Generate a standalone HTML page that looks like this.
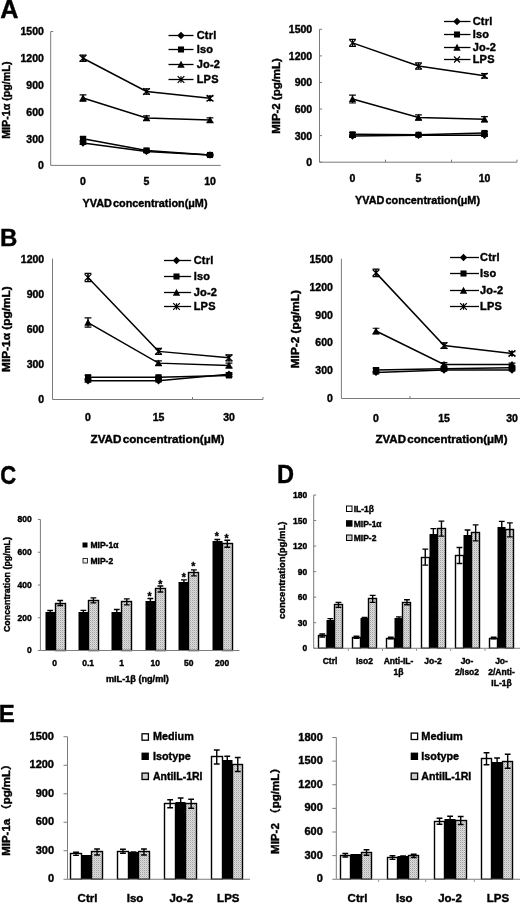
<!DOCTYPE html><html><head><meta charset="utf-8"><title>Figure</title>
<style>html,body{margin:0;padding:0;background:#fff}svg{display:block;will-change:transform}text{font-family:"Liberation Sans", "Noto Sans CJK SC", sans-serif}</style></head><body>
<svg width="520" height="904" viewBox="0 0 520 904">
<defs><pattern id="gp" width="2" height="2" patternUnits="userSpaceOnUse"><rect width="2" height="2" fill="#dcdcdc"/><rect width="1" height="1" fill="#a2a2a2"/><rect x="1" y="1" width="1" height="1" fill="#c6c6c6"/></pattern></defs>
<rect width="520" height="904" fill="#fff"/>
<text x="0.30" y="17.90" font-size="25.2" text-anchor="start" font-weight="bold" fill="#000" stroke="#000" stroke-width="0.4">A</text>
<text x="0.00" y="246.00" font-size="24" text-anchor="start" font-weight="bold" fill="#000" stroke="#000" stroke-width="0.4">B</text>
<text transform="translate(0.3 484.3) scale(1 1.2)" font-size="22" font-weight="bold" stroke="#000" stroke-width="0.4">C</text>
<text transform="translate(277.1 483.3) scale(1 1.08)" font-size="23.6" font-weight="bold" stroke="#000" stroke-width="0.4">D</text>
<text x="-1.30" y="721.90" font-size="24" text-anchor="start" font-weight="bold" fill="#000" stroke="#000" stroke-width="0.4">E</text>
<line x1="50.70" y1="31.50" x2="50.70" y2="165.40" stroke="#7a7a7a" stroke-width="1"/>
<line x1="50.70" y1="165.40" x2="220.70" y2="165.40" stroke="#7a7a7a" stroke-width="1"/>
<text x="43.90" y="169.28" font-size="10.5" text-anchor="end" font-weight="bold" fill="#000" stroke="#000" stroke-width="0.4">0</text>
<text x="43.90" y="142.50" font-size="10.5" text-anchor="end" font-weight="bold" fill="#000" stroke="#000" stroke-width="0.4">300</text>
<text x="43.90" y="115.73" font-size="10.5" text-anchor="end" font-weight="bold" fill="#000" stroke="#000" stroke-width="0.4">600</text>
<text x="43.90" y="88.95" font-size="10.5" text-anchor="end" font-weight="bold" fill="#000" stroke="#000" stroke-width="0.4">900</text>
<text x="43.90" y="62.16" font-size="10.5" text-anchor="end" font-weight="bold" fill="#000" stroke="#000" stroke-width="0.4">1200</text>
<line x1="50.70" y1="31.50" x2="53.20" y2="31.50" stroke="#7a7a7a" stroke-width="1"/>
<text x="43.90" y="35.38" font-size="10.5" text-anchor="end" font-weight="bold" fill="#000" stroke="#000" stroke-width="0.4">1500</text>
<text x="83.00" y="185.00" font-size="10.5" text-anchor="middle" font-weight="bold" fill="#000" stroke="#000" stroke-width="0.4">0</text>
<text x="146.50" y="185.00" font-size="10.5" text-anchor="middle" font-weight="bold" fill="#000" stroke="#000" stroke-width="0.4">5</text>
<text x="210.00" y="185.00" font-size="10.5" text-anchor="middle" font-weight="bold" fill="#000" stroke="#000" stroke-width="0.4">10</text>
<text x="145.00" y="207.00" font-size="11" text-anchor="middle" font-weight="bold" fill="#000" stroke="#000" stroke-width="0.4" textLength="125" lengthAdjust="spacingAndGlyphs" word-spacing="-1.8">YVAD concentration(μM)</text>
<text x="10.20" y="100.20" font-size="10.5" text-anchor="middle" font-weight="bold" fill="#000" stroke="#000" stroke-width="0.4" textLength="77.3" lengthAdjust="spacingAndGlyphs" transform="rotate(-90 10.20 100.20)">MIP-1α (pg/mL)</text>
<path d="M83.00 143.08L146.50 151.39L210.00 154.96" stroke="#000" stroke-width="1.5" fill="none"/>
<path d="M83.00 141.74L83.00 144.42M79.60 141.74L86.40 141.74M79.60 144.42L86.40 144.42" stroke="#000" stroke-width="1.2" fill="none"/>
<path d="M83.00 139.38L86.70 143.08L83.00 146.78L79.30 143.08Z" fill="#000"/>
<path d="M146.50 150.49L146.50 152.28M143.10 150.49L149.90 150.49M143.10 152.28L149.90 152.28" stroke="#000" stroke-width="1.2" fill="none"/>
<path d="M146.50 147.69L150.20 151.39L146.50 155.09L142.80 151.39Z" fill="#000"/>
<path d="M210.00 154.06L210.00 155.85M206.60 154.06L213.40 154.06M206.60 155.85L213.40 155.85" stroke="#000" stroke-width="1.2" fill="none"/>
<path d="M210.00 151.26L213.70 154.96L210.00 158.66L206.30 154.96Z" fill="#000"/>
<path d="M83.00 138.80L146.50 150.40L210.00 154.96" stroke="#000" stroke-width="1.5" fill="none"/>
<path d="M83.00 137.01L83.00 140.58M79.60 137.01L86.40 137.01M79.60 140.58L86.40 140.58" stroke="#000" stroke-width="1.2" fill="none"/>
<rect x="79.97" y="135.76" width="6.07" height="6.07" fill="#000"/>
<path d="M146.50 149.06L146.50 151.74M143.10 149.06L149.90 149.06M143.10 151.74L149.90 151.74" stroke="#000" stroke-width="1.2" fill="none"/>
<rect x="143.47" y="147.37" width="6.07" height="6.07" fill="#000"/>
<path d="M210.00 154.06L210.00 155.85M206.60 154.06L213.40 154.06M206.60 155.85L213.40 155.85" stroke="#000" stroke-width="1.2" fill="none"/>
<rect x="206.97" y="151.92" width="6.07" height="6.07" fill="#000"/>
<path d="M83.00 98.00L146.50 118.09L210.00 120.05" stroke="#000" stroke-width="1.5" fill="none"/>
<path d="M83.00 94.88L83.00 101.13M79.60 94.88L86.40 94.88M79.60 101.13L86.40 101.13" stroke="#000" stroke-width="1.2" fill="none"/>
<path d="M83.00 94.30L86.70 101.15L79.30 101.15Z" fill="#000"/>
<path d="M146.50 115.86L146.50 120.32M143.10 115.86L149.90 115.86M143.10 120.32L149.90 120.32" stroke="#000" stroke-width="1.2" fill="none"/>
<path d="M146.50 114.39L150.20 121.23L142.80 121.23Z" fill="#000"/>
<path d="M210.00 117.82L210.00 122.28M206.60 117.82L213.40 117.82M206.60 122.28L213.40 122.28" stroke="#000" stroke-width="1.2" fill="none"/>
<path d="M210.00 116.35L213.70 123.20L206.30 123.20Z" fill="#000"/>
<path d="M83.00 58.28L146.50 91.49L210.00 98.27" stroke="#000" stroke-width="1.5" fill="none"/>
<path d="M83.00 55.16L83.00 61.40M79.60 55.16L86.40 55.16M79.60 61.40L86.40 61.40" stroke="#000" stroke-width="1.2" fill="none"/>
<path d="M79.67 54.95L86.33 61.61M86.33 54.95L79.67 61.61M83.00 54.95L83.00 61.61" stroke="#000" stroke-width="1.25" fill="none"/>
<path d="M146.50 88.81L146.50 94.17M143.10 88.81L149.90 88.81M143.10 94.17L149.90 94.17" stroke="#000" stroke-width="1.2" fill="none"/>
<path d="M143.17 88.16L149.83 94.82M149.83 88.16L143.17 94.82M146.50 88.16L146.50 94.82" stroke="#000" stroke-width="1.25" fill="none"/>
<path d="M210.00 96.04L210.00 100.50M206.60 96.04L213.40 96.04M206.60 100.50L213.40 100.50" stroke="#000" stroke-width="1.2" fill="none"/>
<path d="M206.67 94.94L213.33 101.60M213.33 94.94L206.67 101.60M210.00 94.94L210.00 101.60" stroke="#000" stroke-width="1.25" fill="none"/>
<line x1="168.50" y1="35.50" x2="193.50" y2="35.50" stroke="#000" stroke-width="1.3"/>
<path d="M181.00 31.80L184.70 35.50L181.00 39.20L177.30 35.50Z" fill="#000"/>
<text x="196.70" y="39.46" font-size="11" text-anchor="start" font-weight="bold" fill="#000" stroke="#000" stroke-width="0.4" letter-spacing="0.2">Ctrl</text>
<line x1="168.50" y1="49.50" x2="193.50" y2="49.50" stroke="#000" stroke-width="1.3"/>
<rect x="177.97" y="46.47" width="6.07" height="6.07" fill="#000"/>
<text x="196.70" y="53.46" font-size="11" text-anchor="start" font-weight="bold" fill="#000" stroke="#000" stroke-width="0.4" letter-spacing="0.2">Iso</text>
<line x1="168.50" y1="64.50" x2="193.50" y2="64.50" stroke="#000" stroke-width="1.3"/>
<path d="M181.00 60.80L184.70 67.64L177.30 67.64Z" fill="#000"/>
<text x="196.70" y="68.46" font-size="11" text-anchor="start" font-weight="bold" fill="#000" stroke="#000" stroke-width="0.4" letter-spacing="0.2">Jo-2</text>
<line x1="168.50" y1="79.50" x2="193.50" y2="79.50" stroke="#000" stroke-width="1.3"/>
<path d="M177.67 76.17L184.33 82.83M184.33 76.17L177.67 82.83M181.00 76.17L181.00 82.83" stroke="#000" stroke-width="1.25" fill="none"/>
<text x="196.70" y="83.46" font-size="11" text-anchor="start" font-weight="bold" fill="#000" stroke="#000" stroke-width="0.4" letter-spacing="0.2">LPS</text>
<line x1="319.50" y1="29.30" x2="319.50" y2="162.20" stroke="#7a7a7a" stroke-width="1"/>
<line x1="319.50" y1="162.20" x2="517.00" y2="162.20" stroke="#7a7a7a" stroke-width="1"/>
<line x1="319.50" y1="162.20" x2="322.00" y2="162.20" stroke="#7a7a7a" stroke-width="1"/>
<text x="312.20" y="166.08" font-size="10.5" text-anchor="end" font-weight="bold" fill="#000" stroke="#000" stroke-width="0.4">0</text>
<line x1="319.50" y1="135.62" x2="322.00" y2="135.62" stroke="#7a7a7a" stroke-width="1"/>
<text x="312.20" y="139.50" font-size="10.5" text-anchor="end" font-weight="bold" fill="#000" stroke="#000" stroke-width="0.4">300</text>
<line x1="319.50" y1="109.04" x2="322.00" y2="109.04" stroke="#7a7a7a" stroke-width="1"/>
<text x="312.20" y="112.92" font-size="10.5" text-anchor="end" font-weight="bold" fill="#000" stroke="#000" stroke-width="0.4">600</text>
<line x1="319.50" y1="82.46" x2="322.00" y2="82.46" stroke="#7a7a7a" stroke-width="1"/>
<text x="312.20" y="86.35" font-size="10.5" text-anchor="end" font-weight="bold" fill="#000" stroke="#000" stroke-width="0.4">900</text>
<line x1="319.50" y1="55.88" x2="322.00" y2="55.88" stroke="#7a7a7a" stroke-width="1"/>
<text x="312.20" y="59.77" font-size="10.5" text-anchor="end" font-weight="bold" fill="#000" stroke="#000" stroke-width="0.4">1200</text>
<line x1="319.50" y1="29.30" x2="322.00" y2="29.30" stroke="#7a7a7a" stroke-width="1"/>
<text x="312.20" y="33.19" font-size="10.5" text-anchor="end" font-weight="bold" fill="#000" stroke="#000" stroke-width="0.4">1500</text>
<line x1="385.50" y1="162.20" x2="385.50" y2="159.70" stroke="#7a7a7a" stroke-width="1"/>
<line x1="451.50" y1="162.20" x2="451.50" y2="159.70" stroke="#7a7a7a" stroke-width="1"/>
<line x1="517.00" y1="162.20" x2="517.00" y2="159.70" stroke="#7a7a7a" stroke-width="1"/>
<text x="352.50" y="181.90" font-size="10.5" text-anchor="middle" font-weight="bold" fill="#000" stroke="#000" stroke-width="0.4">0</text>
<text x="418.50" y="181.90" font-size="10.5" text-anchor="middle" font-weight="bold" fill="#000" stroke="#000" stroke-width="0.4">5</text>
<text x="484.50" y="181.90" font-size="10.5" text-anchor="middle" font-weight="bold" fill="#000" stroke="#000" stroke-width="0.4">10</text>
<text x="417.50" y="204.00" font-size="11" text-anchor="middle" font-weight="bold" fill="#000" stroke="#000" stroke-width="0.4" textLength="125" lengthAdjust="spacingAndGlyphs" word-spacing="-1.8">YVAD concentration(μM)</text>
<text x="279.80" y="96.00" font-size="10.5" text-anchor="middle" font-weight="bold" fill="#000" stroke="#000" stroke-width="0.4" textLength="75.6" lengthAdjust="spacingAndGlyphs" transform="rotate(-90 279.80 96.00)">MIP-2 (pg/mL)</text>
<path d="M352.50 136.06L418.50 135.18L484.50 135.18" stroke="#000" stroke-width="1.5" fill="none"/>
<path d="M352.50 134.73L352.50 137.39M349.10 134.73L355.90 134.73M349.10 137.39L355.90 137.39" stroke="#000" stroke-width="1.2" fill="none"/>
<path d="M352.50 132.36L356.20 136.06L352.50 139.76L348.80 136.06Z" fill="#000"/>
<path d="M418.50 134.29L418.50 136.06M415.10 134.29L421.90 134.29M415.10 136.06L421.90 136.06" stroke="#000" stroke-width="1.2" fill="none"/>
<path d="M418.50 131.48L422.20 135.18L418.50 138.88L414.80 135.18Z" fill="#000"/>
<path d="M484.50 133.85L484.50 136.51M481.10 133.85L487.90 133.85M481.10 136.51L487.90 136.51" stroke="#000" stroke-width="1.2" fill="none"/>
<path d="M484.50 131.48L488.20 135.18L484.50 138.88L480.80 135.18Z" fill="#000"/>
<path d="M352.50 134.29L418.50 134.73L484.50 132.96" stroke="#000" stroke-width="1.5" fill="none"/>
<path d="M352.50 132.52L352.50 136.06M349.10 132.52L355.90 132.52M349.10 136.06L355.90 136.06" stroke="#000" stroke-width="1.2" fill="none"/>
<rect x="349.47" y="131.26" width="6.07" height="6.07" fill="#000"/>
<path d="M418.50 133.85L418.50 135.62M415.10 133.85L421.90 133.85M415.10 135.62L421.90 135.62" stroke="#000" stroke-width="1.2" fill="none"/>
<rect x="415.47" y="131.70" width="6.07" height="6.07" fill="#000"/>
<path d="M484.50 131.63L484.50 134.29M481.10 131.63L487.90 131.63M481.10 134.29L487.90 134.29" stroke="#000" stroke-width="1.2" fill="none"/>
<rect x="481.47" y="129.93" width="6.07" height="6.07" fill="#000"/>
<path d="M352.50 99.03L418.50 117.46L484.50 119.23" stroke="#000" stroke-width="1.5" fill="none"/>
<path d="M352.50 95.04L352.50 103.02M349.10 95.04L355.90 95.04M349.10 103.02L355.90 103.02" stroke="#000" stroke-width="1.2" fill="none"/>
<path d="M352.50 95.33L356.20 102.17L348.80 102.17Z" fill="#000"/>
<path d="M418.50 114.80L418.50 120.11M415.10 114.80L421.90 114.80M415.10 120.11L421.90 120.11" stroke="#000" stroke-width="1.2" fill="none"/>
<path d="M418.50 113.76L422.20 120.60L414.80 120.60Z" fill="#000"/>
<path d="M484.50 116.57L484.50 121.89M481.10 116.57L487.90 116.57M481.10 121.89L487.90 121.89" stroke="#000" stroke-width="1.2" fill="none"/>
<path d="M484.50 115.53L488.20 122.37L480.80 122.37Z" fill="#000"/>
<path d="M352.50 42.86L418.50 66.07L484.50 75.81" stroke="#000" stroke-width="1.5" fill="none"/>
<path d="M352.50 39.31L352.50 46.40M349.10 39.31L355.90 39.31M349.10 46.40L355.90 46.40" stroke="#000" stroke-width="1.2" fill="none"/>
<path d="M349.54 39.90L355.46 45.82M355.46 39.90L349.54 45.82" stroke="#000" stroke-width="1.25" fill="none"/>
<path d="M418.50 62.97L418.50 69.17M415.10 62.97L421.90 62.97M415.10 69.17L421.90 69.17" stroke="#000" stroke-width="1.2" fill="none"/>
<path d="M415.54 63.11L421.46 69.03M421.46 63.11L415.54 69.03" stroke="#000" stroke-width="1.25" fill="none"/>
<path d="M484.50 73.60L484.50 78.03M481.10 73.60L487.90 73.60M481.10 78.03L487.90 78.03" stroke="#000" stroke-width="1.2" fill="none"/>
<path d="M481.54 72.86L487.46 78.77M487.46 72.86L481.54 78.77" stroke="#000" stroke-width="1.25" fill="none"/>
<line x1="444.00" y1="21.50" x2="470.50" y2="21.50" stroke="#000" stroke-width="1.3"/>
<path d="M457.00 17.80L460.70 21.50L457.00 25.20L453.30 21.50Z" fill="#000"/>
<text x="472.70" y="25.46" font-size="11" text-anchor="start" font-weight="bold" fill="#000" stroke="#000" stroke-width="0.4" letter-spacing="0.2">Ctrl</text>
<line x1="444.00" y1="34.50" x2="470.50" y2="34.50" stroke="#000" stroke-width="1.3"/>
<rect x="453.97" y="31.47" width="6.07" height="6.07" fill="#000"/>
<text x="472.70" y="38.46" font-size="11" text-anchor="start" font-weight="bold" fill="#000" stroke="#000" stroke-width="0.4" letter-spacing="0.2">Iso</text>
<line x1="444.00" y1="47.50" x2="470.50" y2="47.50" stroke="#000" stroke-width="1.3"/>
<path d="M457.00 43.80L460.70 50.65L453.30 50.65Z" fill="#000"/>
<text x="472.70" y="51.46" font-size="11" text-anchor="start" font-weight="bold" fill="#000" stroke="#000" stroke-width="0.4" letter-spacing="0.2">Jo-2</text>
<line x1="444.00" y1="59.50" x2="470.50" y2="59.50" stroke="#000" stroke-width="1.3"/>
<path d="M454.04 56.54L459.96 62.46M459.96 56.54L454.04 62.46" stroke="#000" stroke-width="1.25" fill="none"/>
<text x="472.70" y="63.46" font-size="11" text-anchor="start" font-weight="bold" fill="#000" stroke="#000" stroke-width="0.4" letter-spacing="0.2">LPS</text>
<line x1="52.50" y1="258.70" x2="52.50" y2="399.50" stroke="#7a7a7a" stroke-width="1"/>
<line x1="52.50" y1="399.50" x2="263.00" y2="399.50" stroke="#7a7a7a" stroke-width="1"/>
<text x="44.20" y="403.38" font-size="10.5" text-anchor="end" font-weight="bold" fill="#000" stroke="#000" stroke-width="0.4">0</text>
<text x="44.20" y="368.19" font-size="10.5" text-anchor="end" font-weight="bold" fill="#000" stroke="#000" stroke-width="0.4">300</text>
<text x="44.20" y="332.99" font-size="10.5" text-anchor="end" font-weight="bold" fill="#000" stroke="#000" stroke-width="0.4">600</text>
<text x="44.20" y="297.78" font-size="10.5" text-anchor="end" font-weight="bold" fill="#000" stroke="#000" stroke-width="0.4">900</text>
<text x="44.20" y="262.58" font-size="10.5" text-anchor="end" font-weight="bold" fill="#000" stroke="#000" stroke-width="0.4">1200</text>
<line x1="192.50" y1="399.50" x2="192.50" y2="397.00" stroke="#7a7a7a" stroke-width="1"/>
<line x1="263.00" y1="399.50" x2="263.00" y2="397.00" stroke="#7a7a7a" stroke-width="1"/>
<text x="88.00" y="421.00" font-size="10.5" text-anchor="middle" font-weight="bold" fill="#000" stroke="#000" stroke-width="0.4">0</text>
<text x="158.50" y="421.00" font-size="10.5" text-anchor="middle" font-weight="bold" fill="#000" stroke="#000" stroke-width="0.4">15</text>
<text x="229.00" y="421.00" font-size="10.5" text-anchor="middle" font-weight="bold" fill="#000" stroke="#000" stroke-width="0.4">30</text>
<text x="157.50" y="443.20" font-size="11" text-anchor="middle" font-weight="bold" fill="#000" stroke="#000" stroke-width="0.4" textLength="134" lengthAdjust="spacingAndGlyphs" word-spacing="-1.8">ZVAD concentration(μM)</text>
<text x="10.10" y="329.10" font-size="10.5" text-anchor="middle" font-weight="bold" fill="#000" stroke="#000" stroke-width="0.4" textLength="85.7" lengthAdjust="spacingAndGlyphs" transform="rotate(-90 10.10 329.10)">MIP-1α (pg/mL)</text>
<path d="M88.00 380.73L158.50 380.73L229.00 374.27" stroke="#000" stroke-width="1.5" fill="none"/>
<path d="M88.00 379.32L88.00 382.13M84.60 379.32L91.40 379.32M84.60 382.13L91.40 382.13" stroke="#000" stroke-width="1.2" fill="none"/>
<path d="M88.00 377.03L91.70 380.73L88.00 384.43L84.30 380.73Z" fill="#000"/>
<path d="M158.50 379.55L158.50 381.90M155.10 379.55L161.90 379.55M155.10 381.90L161.90 381.90" stroke="#000" stroke-width="1.2" fill="none"/>
<path d="M158.50 377.03L162.20 380.73L158.50 384.43L154.80 380.73Z" fill="#000"/>
<path d="M229.00 372.51L229.00 376.03M225.60 372.51L232.40 372.51M225.60 376.03L232.40 376.03" stroke="#000" stroke-width="1.2" fill="none"/>
<path d="M229.00 370.57L232.70 374.27L229.00 377.97L225.30 374.27Z" fill="#000"/>
<path d="M88.00 377.21L158.50 377.21L229.00 375.45" stroke="#000" stroke-width="1.5" fill="none"/>
<path d="M88.00 375.45L88.00 378.97M84.60 375.45L91.40 375.45M84.60 378.97L91.40 378.97" stroke="#000" stroke-width="1.2" fill="none"/>
<rect x="84.97" y="374.17" width="6.07" height="6.07" fill="#000"/>
<path d="M158.50 376.03L158.50 378.38M155.10 376.03L161.90 376.03M155.10 378.38L161.90 378.38" stroke="#000" stroke-width="1.2" fill="none"/>
<rect x="155.47" y="374.17" width="6.07" height="6.07" fill="#000"/>
<path d="M229.00 374.04L229.00 376.85M225.60 374.04L232.40 374.04M225.60 376.85L232.40 376.85" stroke="#000" stroke-width="1.2" fill="none"/>
<rect x="225.97" y="372.41" width="6.07" height="6.07" fill="#000"/>
<path d="M88.00 322.53L158.50 363.13L229.00 365.47" stroke="#000" stroke-width="1.5" fill="none"/>
<path d="M88.00 317.84L88.00 327.22M84.60 317.84L91.40 317.84M84.60 327.22L91.40 327.22" stroke="#000" stroke-width="1.2" fill="none"/>
<path d="M88.00 318.83L91.70 325.67L84.30 325.67Z" fill="#000"/>
<path d="M158.50 360.78L158.50 365.47M155.10 360.78L161.90 360.78M155.10 365.47L161.90 365.47" stroke="#000" stroke-width="1.2" fill="none"/>
<path d="M158.50 359.43L162.20 366.27L154.80 366.27Z" fill="#000"/>
<path d="M229.00 363.13L229.00 367.82M225.60 363.13L232.40 363.13M225.60 367.82L232.40 367.82" stroke="#000" stroke-width="1.2" fill="none"/>
<path d="M229.00 361.77L232.70 368.62L225.30 368.62Z" fill="#000"/>
<path d="M88.00 277.47L158.50 351.39L229.00 357.85" stroke="#000" stroke-width="1.5" fill="none"/>
<path d="M88.00 273.37L88.00 281.58M84.60 273.37L91.40 273.37M84.60 281.58L91.40 281.58" stroke="#000" stroke-width="1.2" fill="none"/>
<path d="M84.67 274.14L91.33 280.80M91.33 274.14L84.67 280.80M88.00 274.14L88.00 280.80" stroke="#000" stroke-width="1.25" fill="none"/>
<path d="M158.50 348.46L158.50 354.33M155.10 348.46L161.90 348.46M155.10 354.33L161.90 354.33" stroke="#000" stroke-width="1.2" fill="none"/>
<path d="M155.17 348.06L161.83 354.72M161.83 348.06L155.17 354.72M158.50 348.06L158.50 354.72" stroke="#000" stroke-width="1.25" fill="none"/>
<path d="M229.00 354.91L229.00 360.78M225.60 354.91L232.40 354.91M225.60 360.78L232.40 360.78" stroke="#000" stroke-width="1.2" fill="none"/>
<path d="M225.67 354.52L232.33 361.18M232.33 354.52L225.67 361.18M229.00 354.52L229.00 361.18" stroke="#000" stroke-width="1.25" fill="none"/>
<line x1="164.00" y1="260.50" x2="191.20" y2="260.50" stroke="#000" stroke-width="1.3"/>
<path d="M176.50 256.80L180.20 260.50L176.50 264.20L172.80 260.50Z" fill="#000"/>
<text x="193.70" y="264.46" font-size="11" text-anchor="start" font-weight="bold" fill="#000" stroke="#000" stroke-width="0.4" letter-spacing="0.2">Ctrl</text>
<line x1="164.00" y1="276.50" x2="191.20" y2="276.50" stroke="#000" stroke-width="1.3"/>
<rect x="173.47" y="273.47" width="6.07" height="6.07" fill="#000"/>
<text x="193.70" y="280.46" font-size="11" text-anchor="start" font-weight="bold" fill="#000" stroke="#000" stroke-width="0.4" letter-spacing="0.2">Iso</text>
<line x1="164.00" y1="292.50" x2="191.20" y2="292.50" stroke="#000" stroke-width="1.3"/>
<path d="M176.50 288.80L180.20 295.64L172.80 295.64Z" fill="#000"/>
<text x="193.70" y="296.46" font-size="11" text-anchor="start" font-weight="bold" fill="#000" stroke="#000" stroke-width="0.4" letter-spacing="0.2">Jo-2</text>
<line x1="164.00" y1="306.50" x2="191.20" y2="306.50" stroke="#000" stroke-width="1.3"/>
<path d="M173.17 303.17L179.83 309.83M179.83 303.17L173.17 309.83M176.50 303.17L176.50 309.83" stroke="#000" stroke-width="1.25" fill="none"/>
<text x="193.70" y="310.46" font-size="11" text-anchor="start" font-weight="bold" fill="#000" stroke="#000" stroke-width="0.4" letter-spacing="0.2">LPS</text>
<line x1="341.40" y1="258.70" x2="341.40" y2="398.50" stroke="#7a7a7a" stroke-width="1"/>
<line x1="341.40" y1="398.50" x2="520.00" y2="398.50" stroke="#7a7a7a" stroke-width="1"/>
<text x="332.90" y="402.38" font-size="10.5" text-anchor="end" font-weight="bold" fill="#000" stroke="#000" stroke-width="0.4">0</text>
<text x="332.90" y="374.43" font-size="10.5" text-anchor="end" font-weight="bold" fill="#000" stroke="#000" stroke-width="0.4">300</text>
<text x="332.90" y="346.46" font-size="10.5" text-anchor="end" font-weight="bold" fill="#000" stroke="#000" stroke-width="0.4">600</text>
<text x="332.90" y="318.50" font-size="10.5" text-anchor="end" font-weight="bold" fill="#000" stroke="#000" stroke-width="0.4">900</text>
<text x="332.90" y="290.54" font-size="10.5" text-anchor="end" font-weight="bold" fill="#000" stroke="#000" stroke-width="0.4">1200</text>
<text x="332.90" y="262.58" font-size="10.5" text-anchor="end" font-weight="bold" fill="#000" stroke="#000" stroke-width="0.4">1500</text>
<line x1="410.00" y1="398.50" x2="410.00" y2="396.00" stroke="#7a7a7a" stroke-width="1"/>
<text x="376.00" y="421.70" font-size="10.5" text-anchor="middle" font-weight="bold" fill="#000" stroke="#000" stroke-width="0.4">0</text>
<text x="444.00" y="421.70" font-size="10.5" text-anchor="middle" font-weight="bold" fill="#000" stroke="#000" stroke-width="0.4">15</text>
<text x="512.00" y="421.70" font-size="10.5" text-anchor="middle" font-weight="bold" fill="#000" stroke="#000" stroke-width="0.4">30</text>
<text x="441.50" y="442.80" font-size="11" text-anchor="middle" font-weight="bold" fill="#000" stroke="#000" stroke-width="0.4" textLength="132" lengthAdjust="spacingAndGlyphs" word-spacing="-1.8">ZVAD concentration(μM)</text>
<text x="299.50" y="329.10" font-size="10.5" text-anchor="middle" font-weight="bold" fill="#000" stroke="#000" stroke-width="0.4" textLength="78.3" lengthAdjust="spacingAndGlyphs" transform="rotate(-90 299.50 329.10)">MIP-2 (pg/mL)</text>
<path d="M376.00 372.40L444.00 370.07L512.00 370.07" stroke="#000" stroke-width="1.5" fill="none"/>
<path d="M376.00 371.01L376.00 373.80M372.60 371.01L379.40 371.01M372.60 373.80L379.40 373.80" stroke="#000" stroke-width="1.2" fill="none"/>
<path d="M376.00 368.70L379.70 372.40L376.00 376.10L372.30 372.40Z" fill="#000"/>
<path d="M444.00 369.14L444.00 371.01M440.60 369.14L447.40 369.14M440.60 371.01L447.40 371.01" stroke="#000" stroke-width="1.2" fill="none"/>
<path d="M444.00 366.37L447.70 370.07L444.00 373.77L440.30 370.07Z" fill="#000"/>
<path d="M512.00 369.14L512.00 371.01M508.60 369.14L515.40 369.14M508.60 371.01L515.40 371.01" stroke="#000" stroke-width="1.2" fill="none"/>
<path d="M512.00 366.37L515.70 370.07L512.00 373.77L508.30 370.07Z" fill="#000"/>
<path d="M376.00 370.07L444.00 368.68L512.00 367.74" stroke="#000" stroke-width="1.5" fill="none"/>
<path d="M376.00 368.21L376.00 371.94M372.60 368.21L379.40 368.21M372.60 371.94L379.40 371.94" stroke="#000" stroke-width="1.2" fill="none"/>
<rect x="372.97" y="367.04" width="6.07" height="6.07" fill="#000"/>
<path d="M444.00 367.74L444.00 369.61M440.60 367.74L447.40 367.74M440.60 369.61L447.40 369.61" stroke="#000" stroke-width="1.2" fill="none"/>
<rect x="440.97" y="365.64" width="6.07" height="6.07" fill="#000"/>
<path d="M512.00 366.81L512.00 368.68M508.60 366.81L515.40 366.81M508.60 368.68L515.40 368.68" stroke="#000" stroke-width="1.2" fill="none"/>
<rect x="508.97" y="364.71" width="6.07" height="6.07" fill="#000"/>
<path d="M376.00 331.02L444.00 364.48L512.00 364.48" stroke="#000" stroke-width="1.5" fill="none"/>
<path d="M376.00 328.23L376.00 333.82M372.60 328.23L379.40 328.23M372.60 333.82L379.40 333.82" stroke="#000" stroke-width="1.2" fill="none"/>
<path d="M376.00 327.32L379.70 334.17L372.30 334.17Z" fill="#000"/>
<path d="M444.00 362.62L444.00 366.35M440.60 362.62L447.40 362.62M440.60 366.35L447.40 366.35" stroke="#000" stroke-width="1.2" fill="none"/>
<path d="M444.00 360.78L447.70 367.63L440.30 367.63Z" fill="#000"/>
<path d="M512.00 363.08L512.00 365.88M508.60 363.08L515.40 363.08M508.60 365.88L515.40 365.88" stroke="#000" stroke-width="1.2" fill="none"/>
<path d="M512.00 360.78L515.70 367.63L508.30 367.63Z" fill="#000"/>
<path d="M376.00 272.87L444.00 345.56L512.00 353.48" stroke="#000" stroke-width="1.5" fill="none"/>
<path d="M376.00 269.14L376.00 276.59M372.60 269.14L379.40 269.14M372.60 276.59L379.40 276.59" stroke="#000" stroke-width="1.2" fill="none"/>
<path d="M372.67 269.54L379.33 276.20M379.33 269.54L372.67 276.20M376.00 269.54L376.00 276.20" stroke="#000" stroke-width="1.25" fill="none"/>
<path d="M444.00 342.77L444.00 348.36M440.60 342.77L447.40 342.77M440.60 348.36L447.40 348.36" stroke="#000" stroke-width="1.2" fill="none"/>
<path d="M440.67 342.23L447.33 348.89M447.33 342.23L440.67 348.89M444.00 342.23L444.00 348.89" stroke="#000" stroke-width="1.25" fill="none"/>
<path d="M512.00 351.62L512.00 355.35M508.60 351.62L515.40 351.62M508.60 355.35L515.40 355.35" stroke="#000" stroke-width="1.2" fill="none"/>
<path d="M508.67 350.15L515.33 356.81M515.33 350.15L508.67 356.81M512.00 350.15L512.00 356.81" stroke="#000" stroke-width="1.25" fill="none"/>
<line x1="450.00" y1="257.50" x2="479.00" y2="257.50" stroke="#000" stroke-width="1.3"/>
<path d="M463.50 253.80L467.20 257.50L463.50 261.20L459.80 257.50Z" fill="#000"/>
<text x="480.00" y="261.46" font-size="11" text-anchor="start" font-weight="bold" fill="#000" stroke="#000" stroke-width="0.4" letter-spacing="0.2">Ctrl</text>
<line x1="450.00" y1="273.50" x2="479.00" y2="273.50" stroke="#000" stroke-width="1.3"/>
<rect x="460.47" y="270.47" width="6.07" height="6.07" fill="#000"/>
<text x="480.00" y="277.46" font-size="11" text-anchor="start" font-weight="bold" fill="#000" stroke="#000" stroke-width="0.4" letter-spacing="0.2">Iso</text>
<line x1="450.00" y1="290.50" x2="479.00" y2="290.50" stroke="#000" stroke-width="1.3"/>
<path d="M463.50 286.80L467.20 293.64L459.80 293.64Z" fill="#000"/>
<text x="480.00" y="294.46" font-size="11" text-anchor="start" font-weight="bold" fill="#000" stroke="#000" stroke-width="0.4" letter-spacing="0.2">Jo-2</text>
<line x1="450.00" y1="306.50" x2="479.00" y2="306.50" stroke="#000" stroke-width="1.3"/>
<path d="M460.17 303.17L466.83 309.83M466.83 303.17L460.17 309.83M463.50 303.17L463.50 309.83" stroke="#000" stroke-width="1.25" fill="none"/>
<text x="480.00" y="310.46" font-size="11" text-anchor="start" font-weight="bold" fill="#000" stroke="#000" stroke-width="0.4" letter-spacing="0.2">LPS</text>
<line x1="37.90" y1="650.50" x2="40.40" y2="650.50" stroke="#7c7c7c" stroke-width="1"/>
<text x="31.80" y="653.30" font-size="8.5" text-anchor="end" font-weight="bold" fill="#000" stroke="#000" stroke-width="0.4">0</text>
<line x1="37.90" y1="617.75" x2="40.40" y2="617.75" stroke="#7c7c7c" stroke-width="1"/>
<text x="31.80" y="620.55" font-size="8.5" text-anchor="end" font-weight="bold" fill="#000" stroke="#000" stroke-width="0.4">200</text>
<line x1="37.90" y1="585.00" x2="40.40" y2="585.00" stroke="#7c7c7c" stroke-width="1"/>
<text x="31.80" y="587.80" font-size="8.5" text-anchor="end" font-weight="bold" fill="#000" stroke="#000" stroke-width="0.4">400</text>
<line x1="37.90" y1="552.25" x2="40.40" y2="552.25" stroke="#7c7c7c" stroke-width="1"/>
<text x="31.80" y="555.05" font-size="8.5" text-anchor="end" font-weight="bold" fill="#000" stroke="#000" stroke-width="0.4">600</text>
<line x1="37.90" y1="519.50" x2="40.40" y2="519.50" stroke="#7c7c7c" stroke-width="1"/>
<text x="31.80" y="522.30" font-size="8.5" text-anchor="end" font-weight="bold" fill="#000" stroke="#000" stroke-width="0.4">800</text>
<rect x="45.50" y="612.00" width="10.00" height="38.50" fill="#000"/>
<rect x="55.50" y="603.50" width="10.00" height="47.00" fill="url(#gp)" stroke="#000" stroke-width="1.4"/>
<path d="M50.20 610.52L50.20 613.52M47.30 610.52L53.10 610.52M47.30 613.52L53.10 613.52" stroke="#000" stroke-width="1.4" fill="none"/>
<path d="M50.20 613.02L50.20 613.52" stroke="#000" stroke-width="1" fill="none"/>
<path d="M60.20 600.51L60.20 605.51M57.30 600.51L63.10 600.51M57.30 605.51L63.10 605.51" stroke="#000" stroke-width="1.4" fill="none"/>
<rect x="78.50" y="612.00" width="10.00" height="38.50" fill="#000"/>
<rect x="88.50" y="600.50" width="10.00" height="50.00" fill="url(#gp)" stroke="#000" stroke-width="1.4"/>
<path d="M83.40 610.34L83.40 615.34M80.50 610.34L86.30 610.34M80.50 615.34L86.30 615.34" stroke="#000" stroke-width="1.4" fill="none"/>
<path d="M83.40 613.84L83.40 615.34" stroke="#000" stroke-width="1" fill="none"/>
<path d="M93.40 597.89L93.40 602.89M90.50 597.89L96.30 597.89M90.50 602.89L96.30 602.89" stroke="#000" stroke-width="1.4" fill="none"/>
<rect x="111.50" y="612.00" width="10.00" height="38.50" fill="#000"/>
<rect x="121.50" y="601.50" width="10.00" height="49.00" fill="url(#gp)" stroke="#000" stroke-width="1.4"/>
<path d="M116.80 609.52L116.80 614.52M113.90 609.52L119.70 609.52M113.90 614.52L119.70 614.52" stroke="#000" stroke-width="1.4" fill="none"/>
<path d="M116.80 613.02L116.80 614.52" stroke="#000" stroke-width="1" fill="none"/>
<path d="M126.80 598.87L126.80 604.87M123.90 598.87L129.70 598.87M123.90 604.87L129.70 604.87" stroke="#000" stroke-width="1.4" fill="none"/>
<rect x="145.50" y="601.00" width="10.00" height="49.50" fill="#000"/>
<rect x="155.50" y="588.50" width="10.00" height="62.00" fill="url(#gp)" stroke="#000" stroke-width="1.4"/>
<path d="M150.40 598.55L150.40 603.55M147.50 598.55L153.30 598.55M147.50 603.55L153.30 603.55" stroke="#000" stroke-width="1.4" fill="none"/>
<path d="M150.40 602.05L150.40 603.55" stroke="#000" stroke-width="1" fill="none"/>
<path d="M160.40 585.93L160.40 591.93M157.50 585.93L163.30 585.93M157.50 591.93L163.30 591.93" stroke="#000" stroke-width="1.4" fill="none"/>
<rect x="178.50" y="582.00" width="10.00" height="68.50" fill="#000"/>
<rect x="188.50" y="572.50" width="10.00" height="78.00" fill="url(#gp)" stroke="#000" stroke-width="1.4"/>
<path d="M183.90 579.88L183.90 584.88M181.00 579.88L186.80 579.88M181.00 584.88L186.80 584.88" stroke="#000" stroke-width="1.4" fill="none"/>
<path d="M183.90 583.38L183.90 584.88" stroke="#000" stroke-width="1" fill="none"/>
<path d="M193.90 569.88L193.90 575.88M191.00 569.88L196.80 569.88M191.00 575.88L196.80 575.88" stroke="#000" stroke-width="1.4" fill="none"/>
<rect x="212.50" y="541.00" width="10.00" height="109.50" fill="#000"/>
<rect x="222.50" y="543.50" width="10.00" height="107.00" fill="url(#gp)" stroke="#000" stroke-width="1.4"/>
<path d="M217.30 539.43L217.30 544.43M214.40 539.43L220.20 539.43M214.40 544.43L220.20 544.43" stroke="#000" stroke-width="1.4" fill="none"/>
<path d="M217.30 542.93L217.30 544.43" stroke="#000" stroke-width="1" fill="none"/>
<path d="M227.30 540.24L227.30 547.24M224.40 540.24L230.20 540.24M224.40 547.24L230.20 547.24" stroke="#000" stroke-width="1.4" fill="none"/>
<line x1="40.40" y1="519.50" x2="40.40" y2="650.50" stroke="#7c7c7c" stroke-width="1"/>
<line x1="40.40" y1="650.50" x2="239.50" y2="650.50" stroke="#7c7c7c" stroke-width="1"/>
<text x="54.70" y="665.70" font-size="8.5" text-anchor="middle" font-weight="bold" fill="#000" stroke="#000" stroke-width="0.4">0</text>
<text x="88.10" y="665.70" font-size="8.5" text-anchor="middle" font-weight="bold" fill="#000" stroke="#000" stroke-width="0.4">0.1</text>
<text x="121.60" y="665.70" font-size="8.5" text-anchor="middle" font-weight="bold" fill="#000" stroke="#000" stroke-width="0.4">1</text>
<text x="155.20" y="665.70" font-size="8.5" text-anchor="middle" font-weight="bold" fill="#000" stroke="#000" stroke-width="0.4">10</text>
<text x="188.70" y="665.70" font-size="8.5" text-anchor="middle" font-weight="bold" fill="#000" stroke="#000" stroke-width="0.4">50</text>
<text x="222.10" y="665.70" font-size="8.5" text-anchor="middle" font-weight="bold" fill="#000" stroke="#000" stroke-width="0.4">200</text>
<text x="137.40" y="682.00" font-size="8.6" text-anchor="middle" font-weight="bold" fill="#000" stroke="#000" stroke-width="0.4" textLength="63" lengthAdjust="spacingAndGlyphs">mIL-1β (ng/ml)</text>
<text x="9.80" y="584.60" font-size="8.5" text-anchor="middle" font-weight="bold" fill="#000" stroke="#000" stroke-width="0.4" textLength="95" lengthAdjust="spacingAndGlyphs" transform="rotate(-90 9.80 584.60)">Concentration (pg/mL)</text>
<rect x="82.5" y="542.5" width="5" height="5" fill="#000"/>
<text x="90.50" y="548.00" font-size="8.5" text-anchor="start" font-weight="bold" fill="#000" stroke="#000" stroke-width="0.4">MIP-1α</text>
<rect x="83" y="558.5" width="4.5" height="4.5" fill="#eee" stroke="#000" stroke-width="0.8"/>
<text x="90.50" y="563.70" font-size="8.5" text-anchor="start" font-weight="bold" fill="#000" stroke="#000" stroke-width="0.4">MIP-2</text>
<text x="149.50" y="599.50" font-size="10.5" text-anchor="middle" font-weight="bold" fill="#000" stroke="#000" stroke-width="0.4">*</text>
<text x="160.30" y="588.00" font-size="10.5" text-anchor="middle" font-weight="bold" fill="#000" stroke="#000" stroke-width="0.4">*</text>
<text x="183.70" y="580.50" font-size="10.5" text-anchor="middle" font-weight="bold" fill="#000" stroke="#000" stroke-width="0.4">*</text>
<text x="193.40" y="569.50" font-size="10.5" text-anchor="middle" font-weight="bold" fill="#000" stroke="#000" stroke-width="0.4">*</text>
<text x="216.80" y="539.50" font-size="10.5" text-anchor="middle" font-weight="bold" fill="#000" stroke="#000" stroke-width="0.4">*</text>
<text x="226.50" y="541.50" font-size="10.5" text-anchor="middle" font-weight="bold" fill="#000" stroke="#000" stroke-width="0.4">*</text>
<line x1="313.70" y1="648.25" x2="316.20" y2="648.25" stroke="#7c7c7c" stroke-width="1"/>
<text x="307.20" y="651.31" font-size="8.5" text-anchor="end" font-weight="bold" fill="#000" stroke="#000" stroke-width="0.4">0</text>
<line x1="313.70" y1="622.71" x2="316.20" y2="622.71" stroke="#7c7c7c" stroke-width="1"/>
<text x="307.20" y="625.77" font-size="8.5" text-anchor="end" font-weight="bold" fill="#000" stroke="#000" stroke-width="0.4">30</text>
<line x1="313.70" y1="597.17" x2="316.20" y2="597.17" stroke="#7c7c7c" stroke-width="1"/>
<text x="307.20" y="600.23" font-size="8.5" text-anchor="end" font-weight="bold" fill="#000" stroke="#000" stroke-width="0.4">60</text>
<line x1="313.70" y1="571.62" x2="316.20" y2="571.62" stroke="#7c7c7c" stroke-width="1"/>
<text x="307.20" y="574.68" font-size="8.5" text-anchor="end" font-weight="bold" fill="#000" stroke="#000" stroke-width="0.4">90</text>
<line x1="313.70" y1="546.08" x2="316.20" y2="546.08" stroke="#7c7c7c" stroke-width="1"/>
<text x="307.20" y="549.14" font-size="8.5" text-anchor="end" font-weight="bold" fill="#000" stroke="#000" stroke-width="0.4">120</text>
<line x1="313.70" y1="520.54" x2="316.20" y2="520.54" stroke="#7c7c7c" stroke-width="1"/>
<text x="307.20" y="523.60" font-size="8.5" text-anchor="end" font-weight="bold" fill="#000" stroke="#000" stroke-width="0.4">150</text>
<line x1="313.70" y1="495.00" x2="316.20" y2="495.00" stroke="#7c7c7c" stroke-width="1"/>
<text x="307.20" y="498.06" font-size="8.5" text-anchor="end" font-weight="bold" fill="#000" stroke="#000" stroke-width="0.4">180</text>
<rect x="318.50" y="635.50" width="8.00" height="12.75" fill="#fff" stroke="#000" stroke-width="1.4"/>
<rect x="326.50" y="620.00" width="8.00" height="28.25" fill="#000"/>
<rect x="334.50" y="604.50" width="8.00" height="43.75" fill="url(#gp)" stroke="#000" stroke-width="1.4"/>
<path d="M322.25 633.98L322.25 636.98M319.35 633.98L325.15 633.98M319.35 636.98L325.15 636.98" stroke="#000" stroke-width="1.4" fill="none"/>
<path d="M330.35 618.65L330.35 621.65M327.45 618.65L333.25 618.65M327.45 621.65L333.25 621.65" stroke="#000" stroke-width="1.4" fill="none"/>
<path d="M330.35 621.15L330.35 621.65" stroke="#000" stroke-width="1" fill="none"/>
<path d="M338.45 602.33L338.45 607.33M335.55 602.33L341.35 602.33M335.55 607.33L341.35 607.33" stroke="#000" stroke-width="1.4" fill="none"/>
<rect x="352.50" y="637.50" width="8.00" height="10.75" fill="#fff" stroke="#000" stroke-width="1.4"/>
<rect x="360.50" y="618.00" width="8.00" height="30.25" fill="#000"/>
<rect x="368.50" y="598.50" width="8.00" height="49.75" fill="url(#gp)" stroke="#000" stroke-width="1.4"/>
<path d="M356.45 636.18L356.45 638.18M353.55 636.18L359.35 636.18M353.55 638.18L359.35 638.18" stroke="#000" stroke-width="1.4" fill="none"/>
<path d="M364.55 617.45L364.55 619.45M361.65 617.45L367.45 617.45M361.65 619.45L367.45 619.45" stroke="#000" stroke-width="1.4" fill="none"/>
<path d="M364.55 619.45L364.55 619.45" stroke="#000" stroke-width="1" fill="none"/>
<path d="M372.65 595.37L372.65 602.37M369.75 595.37L375.55 595.37M369.75 602.37L375.55 602.37" stroke="#000" stroke-width="1.4" fill="none"/>
<rect x="386.50" y="638.50" width="8.00" height="9.75" fill="#fff" stroke="#000" stroke-width="1.4"/>
<rect x="394.50" y="618.00" width="8.00" height="30.25" fill="#000"/>
<rect x="402.50" y="602.50" width="8.00" height="45.75" fill="url(#gp)" stroke="#000" stroke-width="1.4"/>
<path d="M390.75 637.23L390.75 638.83M387.85 637.23L393.65 637.23M387.85 638.83L393.65 638.83" stroke="#000" stroke-width="1.4" fill="none"/>
<path d="M398.85 616.83L398.85 619.23M395.95 616.83L401.75 616.83M395.95 619.23L401.75 619.23" stroke="#000" stroke-width="1.4" fill="none"/>
<path d="M398.85 619.03L398.85 619.23" stroke="#000" stroke-width="1" fill="none"/>
<path d="M406.95 599.77L406.95 604.77M404.05 599.77L409.85 599.77M404.05 604.77L409.85 604.77" stroke="#000" stroke-width="1.4" fill="none"/>
<rect x="421.50" y="557.50" width="8.00" height="90.75" fill="#fff" stroke="#000" stroke-width="1.4"/>
<rect x="429.50" y="534.00" width="8.00" height="114.25" fill="#000"/>
<rect x="437.50" y="528.50" width="8.00" height="119.75" fill="url(#gp)" stroke="#000" stroke-width="1.4"/>
<path d="M425.25 549.15L425.25 565.15M422.35 549.15L428.15 549.15M422.35 565.15L428.15 565.15" stroke="#000" stroke-width="1.4" fill="none"/>
<path d="M433.35 528.66L433.35 539.66M430.45 528.66L436.25 528.66M430.45 539.66L436.25 539.66" stroke="#000" stroke-width="1.4" fill="none"/>
<path d="M433.35 535.16L433.35 539.66" stroke="#000" stroke-width="1" fill="none"/>
<path d="M441.45 521.13L441.45 536.13M438.55 521.13L444.35 521.13M438.55 536.13L444.35 536.13" stroke="#000" stroke-width="1.4" fill="none"/>
<rect x="455.50" y="555.50" width="8.00" height="92.75" fill="#fff" stroke="#000" stroke-width="1.4"/>
<rect x="463.50" y="535.00" width="8.00" height="113.25" fill="#000"/>
<rect x="471.50" y="532.50" width="8.00" height="115.75" fill="url(#gp)" stroke="#000" stroke-width="1.4"/>
<path d="M459.45 547.45L459.45 563.45M456.55 547.45L462.35 547.45M456.55 563.45L462.35 563.45" stroke="#000" stroke-width="1.4" fill="none"/>
<path d="M467.55 529.94L467.55 540.94M464.65 529.94L470.45 529.94M464.65 540.94L470.45 540.94" stroke="#000" stroke-width="1.4" fill="none"/>
<path d="M467.55 536.44L467.55 540.94" stroke="#000" stroke-width="1" fill="none"/>
<path d="M475.65 524.89L475.65 540.89M472.75 524.89L478.55 524.89M472.75 540.89L478.55 540.89" stroke="#000" stroke-width="1.4" fill="none"/>
<rect x="489.50" y="638.50" width="8.00" height="9.75" fill="#fff" stroke="#000" stroke-width="1.4"/>
<rect x="497.50" y="527.00" width="8.00" height="121.25" fill="#000"/>
<rect x="505.50" y="529.50" width="8.00" height="118.75" fill="url(#gp)" stroke="#000" stroke-width="1.4"/>
<path d="M493.65 637.23L493.65 638.83M490.75 637.23L496.55 637.23M490.75 638.83L496.55 638.83" stroke="#000" stroke-width="1.4" fill="none"/>
<path d="M501.75 521.35L501.75 533.35M498.85 521.35L504.65 521.35M498.85 533.35L504.65 533.35" stroke="#000" stroke-width="1.4" fill="none"/>
<path d="M501.75 528.35L501.75 533.35" stroke="#000" stroke-width="1" fill="none"/>
<path d="M509.85 522.91L509.85 536.91M506.95 522.91L512.75 522.91M506.95 536.91L512.75 536.91" stroke="#000" stroke-width="1.4" fill="none"/>
<line x1="313.70" y1="495.00" x2="313.70" y2="648.25" stroke="#7c7c7c" stroke-width="1"/>
<line x1="313.70" y1="648.25" x2="520.00" y2="648.25" stroke="#7c7c7c" stroke-width="1"/>
<text x="330.00" y="663.60" font-size="8.5" text-anchor="middle" font-weight="bold" fill="#000" stroke="#000" stroke-width="0.4">Ctrl</text>
<text x="364.50" y="663.60" font-size="8.5" text-anchor="middle" font-weight="bold" fill="#000" stroke="#000" stroke-width="0.4">Iso2</text>
<text x="398.50" y="663.60" font-size="8.5" text-anchor="middle" font-weight="bold" fill="#000" stroke="#000" stroke-width="0.4">Anti-IL-</text>
<text x="398.50" y="674.60" font-size="8.5" text-anchor="middle" font-weight="bold" fill="#000" stroke="#000" stroke-width="0.4">1β</text>
<text x="433.00" y="663.60" font-size="8.5" text-anchor="middle" font-weight="bold" fill="#000" stroke="#000" stroke-width="0.4">Jo-2</text>
<text x="467.00" y="663.60" font-size="8.5" text-anchor="middle" font-weight="bold" fill="#000" stroke="#000" stroke-width="0.4">Jo-</text>
<text x="467.00" y="674.60" font-size="8.5" text-anchor="middle" font-weight="bold" fill="#000" stroke="#000" stroke-width="0.4">2/Iso2</text>
<text x="501.50" y="663.60" font-size="8.5" text-anchor="middle" font-weight="bold" fill="#000" stroke="#000" stroke-width="0.4">Jo-</text>
<text x="501.50" y="674.60" font-size="8.5" text-anchor="middle" font-weight="bold" fill="#000" stroke="#000" stroke-width="0.4">2/Anti-</text>
<text x="501.50" y="685.60" font-size="8.5" text-anchor="middle" font-weight="bold" fill="#000" stroke="#000" stroke-width="0.4">IL-1β</text>
<text x="285.20" y="570.30" font-size="9" text-anchor="middle" font-weight="bold" fill="#000" stroke="#000" stroke-width="0.4" textLength="97.4" lengthAdjust="spacingAndGlyphs" transform="rotate(-90 285.20 570.30)">concentration(pg/mL)</text>
<line x1="348.30" y1="648.50" x2="348.30" y2="651.00" stroke="#999" stroke-width="1"/>
<line x1="382.50" y1="648.50" x2="382.50" y2="651.00" stroke="#999" stroke-width="1"/>
<line x1="416.50" y1="648.50" x2="416.50" y2="651.00" stroke="#999" stroke-width="1"/>
<line x1="450.70" y1="648.50" x2="450.70" y2="651.00" stroke="#999" stroke-width="1"/>
<line x1="485.00" y1="648.50" x2="485.00" y2="651.00" stroke="#999" stroke-width="1"/>
<rect x="346.5" y="506" width="5.5" height="5.5" fill="#fff" stroke="#000" stroke-width="1"/>
<text x="353.70" y="512.00" font-size="8.5" text-anchor="start" font-weight="bold" fill="#000" stroke="#000" stroke-width="0.4">IL-1β</text>
<rect x="346" y="520.2" width="6.5" height="6.5" fill="#000"/>
<text x="353.70" y="526.50" font-size="8.5" text-anchor="start" font-weight="bold" fill="#000" stroke="#000" stroke-width="0.4">MIP-1α</text>
<rect x="346.5" y="535" width="5.5" height="5.5" fill="#ccc" stroke="#000" stroke-width="1"/>
<text x="353.70" y="541.00" font-size="8.5" text-anchor="start" font-weight="bold" fill="#000" stroke="#000" stroke-width="0.4">MIP-2</text>
<line x1="63.50" y1="879.25" x2="67.50" y2="879.25" stroke="#7c7c7c" stroke-width="1"/>
<text x="54.00" y="882.33" font-size="11" text-anchor="end" font-weight="bold" fill="#000" stroke="#000" stroke-width="0.4">0</text>
<line x1="63.50" y1="850.75" x2="67.50" y2="850.75" stroke="#7c7c7c" stroke-width="1"/>
<text x="54.00" y="853.83" font-size="11" text-anchor="end" font-weight="bold" fill="#000" stroke="#000" stroke-width="0.4">300</text>
<line x1="63.50" y1="822.25" x2="67.50" y2="822.25" stroke="#7c7c7c" stroke-width="1"/>
<text x="54.00" y="825.33" font-size="11" text-anchor="end" font-weight="bold" fill="#000" stroke="#000" stroke-width="0.4">600</text>
<line x1="63.50" y1="793.75" x2="67.50" y2="793.75" stroke="#7c7c7c" stroke-width="1"/>
<text x="54.00" y="796.83" font-size="11" text-anchor="end" font-weight="bold" fill="#000" stroke="#000" stroke-width="0.4">900</text>
<line x1="63.50" y1="765.25" x2="67.50" y2="765.25" stroke="#7c7c7c" stroke-width="1"/>
<text x="54.00" y="768.33" font-size="11" text-anchor="end" font-weight="bold" fill="#000" stroke="#000" stroke-width="0.4">1200</text>
<line x1="63.50" y1="736.75" x2="67.50" y2="736.75" stroke="#7c7c7c" stroke-width="1"/>
<text x="54.00" y="739.83" font-size="11" text-anchor="end" font-weight="bold" fill="#000" stroke="#000" stroke-width="0.4">1500</text>
<rect x="70.50" y="853.50" width="11.00" height="25.75" fill="#fff" stroke="#000" stroke-width="1.4"/>
<rect x="81.50" y="855.00" width="10.00" height="24.25" fill="#000"/>
<rect x="91.50" y="851.50" width="11.00" height="27.75" fill="url(#gp)" stroke="#000" stroke-width="1.4"/>
<path d="M76.05 852.19L76.05 855.39M73.15 852.19L78.95 852.19M73.15 855.39L78.95 855.39" stroke="#000" stroke-width="1.4" fill="none"/>
<path d="M97.05 848.99L97.05 854.99M94.15 848.99L99.95 848.99M94.15 854.99L99.95 854.99" stroke="#000" stroke-width="1.4" fill="none"/>
<rect x="117.50" y="851.50" width="11.00" height="27.75" fill="#fff" stroke="#000" stroke-width="1.4"/>
<rect x="128.50" y="852.00" width="10.00" height="27.25" fill="#000"/>
<rect x="138.50" y="851.50" width="11.00" height="27.75" fill="url(#gp)" stroke="#000" stroke-width="1.4"/>
<path d="M122.95 849.23L122.95 853.23M120.05 849.23L125.85 849.23M120.05 853.23L125.85 853.23" stroke="#000" stroke-width="1.4" fill="none"/>
<path d="M133.45 851.85L133.45 853.45M130.55 851.85L136.35 851.85M130.55 853.45L136.35 853.45" stroke="#000" stroke-width="1.4" fill="none"/>
<path d="M133.45 853.65L133.45 853.45" stroke="#000" stroke-width="1" fill="none"/>
<path d="M143.95 848.99L143.95 854.99M141.05 848.99L146.85 848.99M141.05 854.99L146.85 854.99" stroke="#000" stroke-width="1.4" fill="none"/>
<rect x="164.50" y="803.50" width="11.00" height="75.75" fill="#fff" stroke="#000" stroke-width="1.4"/>
<rect x="175.50" y="802.00" width="10.00" height="77.25" fill="#000"/>
<rect x="185.50" y="803.50" width="11.00" height="75.75" fill="url(#gp)" stroke="#000" stroke-width="1.4"/>
<path d="M170.15 799.73L170.15 807.73M167.25 799.73L173.05 799.73M167.25 807.73L173.05 807.73" stroke="#000" stroke-width="1.4" fill="none"/>
<path d="M180.65 798.01L180.65 806.01M177.75 798.01L183.55 798.01M177.75 806.01L183.55 806.01" stroke="#000" stroke-width="1.4" fill="none"/>
<path d="M180.65 803.01L180.65 806.01" stroke="#000" stroke-width="1" fill="none"/>
<path d="M191.15 799.23L191.15 808.23M188.25 799.23L194.05 799.23M188.25 808.23L194.05 808.23" stroke="#000" stroke-width="1.4" fill="none"/>
<rect x="211.50" y="756.50" width="11.00" height="122.75" fill="#fff" stroke="#000" stroke-width="1.4"/>
<rect x="222.50" y="760.00" width="10.00" height="119.25" fill="#000"/>
<rect x="232.50" y="764.50" width="10.00" height="114.75" fill="url(#gp)" stroke="#000" stroke-width="1.4"/>
<path d="M216.75 749.99L216.75 763.99M213.85 749.99L219.65 749.99M213.85 763.99L219.65 763.99" stroke="#000" stroke-width="1.4" fill="none"/>
<path d="M227.25 756.28L227.25 765.28M224.35 756.28L230.15 756.28M224.35 765.28L230.15 765.28" stroke="#000" stroke-width="1.4" fill="none"/>
<path d="M227.25 761.78L227.25 765.28" stroke="#000" stroke-width="1" fill="none"/>
<path d="M237.75 757.49L237.75 771.49M234.85 757.49L240.65 757.49M234.85 771.49L240.65 771.49" stroke="#000" stroke-width="1.4" fill="none"/>
<line x1="67.50" y1="736.75" x2="67.50" y2="879.25" stroke="#7c7c7c" stroke-width="1"/>
<line x1="67.50" y1="879.25" x2="250.00" y2="879.25" stroke="#7c7c7c" stroke-width="1"/>
<text x="87.50" y="901.70" font-size="11.5" text-anchor="middle" font-weight="bold" fill="#000" stroke="#000" stroke-width="0.4">Ctrl</text>
<text x="135.00" y="901.70" font-size="11.5" text-anchor="middle" font-weight="bold" fill="#000" stroke="#000" stroke-width="0.4">Iso</text>
<text x="181.30" y="901.70" font-size="11.5" text-anchor="middle" font-weight="bold" fill="#000" stroke="#000" stroke-width="0.4">Jo-2</text>
<text x="228.30" y="901.70" font-size="11.5" text-anchor="middle" font-weight="bold" fill="#000" stroke="#000" stroke-width="0.4">LPS</text>
<text x="9.80" y="807.20" font-size="10.5" text-anchor="middle" font-weight="bold" fill="#000" stroke="#000" stroke-width="0.4" textLength="97" lengthAdjust="spacingAndGlyphs" transform="rotate(-90 9.80 807.20)">MIP-1a （pg/mL）</text>
<rect x="142" y="733.8" width="6.4" height="6.4" fill="#fff" stroke="#000" stroke-width="1.3"/>
<text x="153.00" y="740.40" font-size="11.5" text-anchor="start" font-weight="bold" fill="#000" stroke="#000" stroke-width="0.4" textLength="40.8" lengthAdjust="spacingAndGlyphs">Medium</text>
<rect x="141.5" y="752.5999999999999" width="7.4" height="7.4" fill="#000"/>
<text x="153.00" y="759.70" font-size="11.5" text-anchor="start" font-weight="bold" fill="#000" stroke="#000" stroke-width="0.4" textLength="37.8" lengthAdjust="spacingAndGlyphs">Isotype</text>
<rect x="142" y="773.0999999999999" width="6.4" height="6.4" fill="#ccc" stroke="#000" stroke-width="1.3"/>
<text x="153.00" y="779.70" font-size="11.5" text-anchor="start" font-weight="bold" fill="#000" stroke="#000" stroke-width="0.4" textLength="49.5" lengthAdjust="spacingAndGlyphs">AntiIL-1RI</text>
<line x1="332.30" y1="879.25" x2="336.30" y2="879.25" stroke="#7c7c7c" stroke-width="1"/>
<text x="322.80" y="882.33" font-size="11" text-anchor="end" font-weight="bold" fill="#000" stroke="#000" stroke-width="0.4">0</text>
<line x1="332.30" y1="855.62" x2="336.30" y2="855.62" stroke="#7c7c7c" stroke-width="1"/>
<text x="322.80" y="858.71" font-size="11" text-anchor="end" font-weight="bold" fill="#000" stroke="#000" stroke-width="0.4">300</text>
<line x1="332.30" y1="832.00" x2="336.30" y2="832.00" stroke="#7c7c7c" stroke-width="1"/>
<text x="322.80" y="835.08" font-size="11" text-anchor="end" font-weight="bold" fill="#000" stroke="#000" stroke-width="0.4">600</text>
<line x1="332.30" y1="808.38" x2="336.30" y2="808.38" stroke="#7c7c7c" stroke-width="1"/>
<text x="322.80" y="811.46" font-size="11" text-anchor="end" font-weight="bold" fill="#000" stroke="#000" stroke-width="0.4">900</text>
<line x1="332.30" y1="784.75" x2="336.30" y2="784.75" stroke="#7c7c7c" stroke-width="1"/>
<text x="322.80" y="787.83" font-size="11" text-anchor="end" font-weight="bold" fill="#000" stroke="#000" stroke-width="0.4">1200</text>
<line x1="332.30" y1="761.12" x2="336.30" y2="761.12" stroke="#7c7c7c" stroke-width="1"/>
<text x="322.80" y="764.21" font-size="11" text-anchor="end" font-weight="bold" fill="#000" stroke="#000" stroke-width="0.4">1500</text>
<line x1="332.30" y1="737.50" x2="336.30" y2="737.50" stroke="#7c7c7c" stroke-width="1"/>
<text x="322.80" y="740.58" font-size="11" text-anchor="end" font-weight="bold" fill="#000" stroke="#000" stroke-width="0.4">1800</text>
<rect x="340.50" y="855.50" width="10.00" height="23.75" fill="#fff" stroke="#000" stroke-width="1.4"/>
<rect x="350.50" y="854.00" width="11.00" height="25.25" fill="#000"/>
<rect x="361.50" y="852.50" width="10.00" height="26.75" fill="url(#gp)" stroke="#000" stroke-width="1.4"/>
<path d="M345.30 853.43L345.30 857.03M342.40 853.43L348.20 853.43M342.40 857.03L348.20 857.03" stroke="#000" stroke-width="1.4" fill="none"/>
<path d="M366.50 849.68L366.50 855.27M363.60 849.68L369.40 849.68M363.60 855.27L369.40 855.27" stroke="#000" stroke-width="1.4" fill="none"/>
<rect x="387.50" y="857.50" width="10.00" height="21.75" fill="#fff" stroke="#000" stroke-width="1.4"/>
<rect x="397.50" y="856.00" width="11.00" height="23.25" fill="#000"/>
<rect x="408.50" y="855.50" width="10.00" height="23.75" fill="url(#gp)" stroke="#000" stroke-width="1.4"/>
<path d="M392.50 855.79L392.50 859.39M389.60 855.79L395.40 855.79M389.60 859.39L395.40 859.39" stroke="#000" stroke-width="1.4" fill="none"/>
<path d="M403.10 855.85L403.10 857.45M400.20 855.85L406.00 855.85M400.20 857.45L406.00 857.45" stroke="#000" stroke-width="1.4" fill="none"/>
<path d="M403.10 857.65L403.10 857.45" stroke="#000" stroke-width="1" fill="none"/>
<path d="M413.70 854.26L413.70 857.46M410.80 854.26L416.60 854.26M410.80 857.46L416.60 857.46" stroke="#000" stroke-width="1.4" fill="none"/>
<rect x="434.50" y="821.50" width="10.00" height="57.75" fill="#fff" stroke="#000" stroke-width="1.4"/>
<rect x="444.50" y="819.00" width="11.00" height="60.25" fill="#000"/>
<rect x="455.50" y="820.50" width="11.00" height="58.75" fill="url(#gp)" stroke="#000" stroke-width="1.4"/>
<path d="M439.50 818.29L439.50 824.29M436.60 818.29L442.40 818.29M436.60 824.29L442.40 824.29" stroke="#000" stroke-width="1.4" fill="none"/>
<path d="M450.10 816.24L450.10 822.24M447.20 816.24L453.00 816.24M447.20 822.24L453.00 822.24" stroke="#000" stroke-width="1.4" fill="none"/>
<path d="M450.10 820.24L450.10 822.24" stroke="#000" stroke-width="1" fill="none"/>
<path d="M460.70 816.50L460.70 824.50M457.80 816.50L463.60 816.50M457.80 824.50L463.60 824.50" stroke="#000" stroke-width="1.4" fill="none"/>
<rect x="481.50" y="758.50" width="10.00" height="120.75" fill="#fff" stroke="#000" stroke-width="1.4"/>
<rect x="491.50" y="762.00" width="11.00" height="117.25" fill="#000"/>
<rect x="502.50" y="761.50" width="10.00" height="117.75" fill="url(#gp)" stroke="#000" stroke-width="1.4"/>
<path d="M486.50 752.76L486.50 764.76M483.60 752.76L489.40 752.76M483.60 764.76L489.40 764.76" stroke="#000" stroke-width="1.4" fill="none"/>
<path d="M497.10 757.96L497.10 766.96M494.20 757.96L500.00 757.96M494.20 766.96L500.00 766.96" stroke="#000" stroke-width="1.4" fill="none"/>
<path d="M497.10 763.46L497.10 766.96" stroke="#000" stroke-width="1" fill="none"/>
<path d="M507.70 754.28L507.70 768.28M504.80 754.28L510.60 754.28M504.80 768.28L510.60 768.28" stroke="#000" stroke-width="1.4" fill="none"/>
<line x1="336.30" y1="737.50" x2="336.30" y2="879.25" stroke="#7c7c7c" stroke-width="1"/>
<line x1="336.30" y1="879.25" x2="520.00" y2="879.25" stroke="#7c7c7c" stroke-width="1"/>
<line x1="378.60" y1="879.50" x2="378.60" y2="882.00" stroke="#999" stroke-width="1"/>
<line x1="425.70" y1="879.50" x2="425.70" y2="882.00" stroke="#999" stroke-width="1"/>
<line x1="474.30" y1="879.50" x2="474.30" y2="882.00" stroke="#999" stroke-width="1"/>
<text x="357.50" y="901.70" font-size="11.5" text-anchor="middle" font-weight="bold" fill="#000" stroke="#000" stroke-width="0.4">Ctrl</text>
<text x="404.30" y="901.70" font-size="11.5" text-anchor="middle" font-weight="bold" fill="#000" stroke="#000" stroke-width="0.4">Iso</text>
<text x="450.00" y="901.70" font-size="11.5" text-anchor="middle" font-weight="bold" fill="#000" stroke="#000" stroke-width="0.4">Jo-2</text>
<text x="498.00" y="901.70" font-size="11.5" text-anchor="middle" font-weight="bold" fill="#000" stroke="#000" stroke-width="0.4">LPS</text>
<text x="279.00" y="808.00" font-size="10.5" text-anchor="middle" font-weight="bold" fill="#000" stroke="#000" stroke-width="0.4" textLength="92" lengthAdjust="spacingAndGlyphs" transform="rotate(-90 279.00 808.00)">MIP-2 （pg/mL）</text>
<rect x="411.2" y="733.0999999999999" width="6.4" height="6.4" fill="#fff" stroke="#000" stroke-width="1.3"/>
<text x="421.30" y="739.70" font-size="11.5" text-anchor="start" font-weight="bold" fill="#000" stroke="#000" stroke-width="0.4" textLength="41.5" lengthAdjust="spacingAndGlyphs">Medium</text>
<rect x="410.7" y="752.5999999999999" width="7.4" height="7.4" fill="#000"/>
<text x="421.30" y="759.70" font-size="11.5" text-anchor="start" font-weight="bold" fill="#000" stroke="#000" stroke-width="0.4" textLength="37.8" lengthAdjust="spacingAndGlyphs">Isotype</text>
<rect x="411.2" y="773.0999999999999" width="6.4" height="6.4" fill="#ccc" stroke="#000" stroke-width="1.3"/>
<text x="421.30" y="779.70" font-size="11.5" text-anchor="start" font-weight="bold" fill="#000" stroke="#000" stroke-width="0.4" textLength="50" lengthAdjust="spacingAndGlyphs">AntiIL-1RI</text>
</svg></body></html>
